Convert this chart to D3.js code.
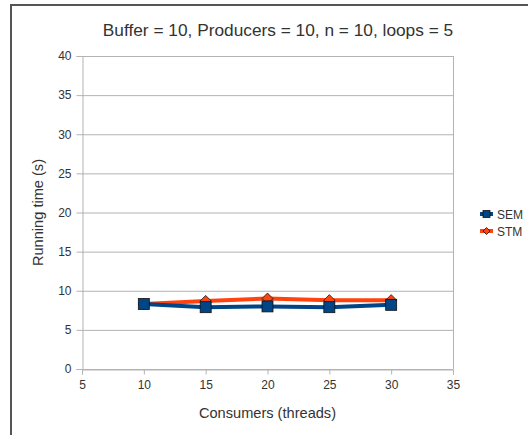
<!DOCTYPE html>
<html>
<head>
<meta charset="utf-8">
<script src="https://cdn.jsdelivr.net/npm/d3@7"></script>
<style>
  html, body { margin: 0; padding: 0; background: #fff; }
  svg { display: block; font-family: "Liberation Sans", Arial, sans-serif; }
</style>
</head>
<body>
<svg id="chart" width="528" height="435"></svg>
<script>
// Measured running times per consumer count
const consumers = [10, 15, 20, 25, 30];
const semTimes = [8.3, 7.9, 8.0, 7.9, 8.2];
const stmTimes = [8.3, 8.7, 9.0, 8.8, 8.8];
const seriesNames = ["SEM", "STM"];
const xTicks = [5, 10, 15, 20, 25, 30, 35];
const yTicks = [0, 5, 10, 15, 20, 25, 30, 35, 40];
const titleText = "Buffer = 10, Producers = 10, n = 10, loops = 5";
const xTitle = "Consumers (threads)";
const yTitle = "Running time (s)";

const svg = d3.select("#chart");
const plot = { left: 82, right: 453, top: 56, bottom: 369 };

const x = d3.scaleLinear().domain([5, 35]).range([plot.left, plot.right]);
const y = d3.scaleLinear().domain([0, 40]).range([plot.bottom, plot.top]);

const gridColor = "#b3b3b3";
const textColor = "#333";

// outer frame (left and top edges)
svg.append("path")
  .attr("d", `M11,440 L11,5 L530,5`)
  .attr("fill", "none").attr("stroke", "#555").attr("stroke-width", 2);

// horizontal grid lines
svg.append("g").selectAll("line").data(yTicks).join("line")
  .attr("x1", plot.left).attr("x2", plot.right)
  .attr("y1", d => y(d) + 0.5).attr("y2", d => y(d) + 0.5)
  .attr("stroke", gridColor).attr("stroke-width", 1);

// plot border on the right
svg.append("line")
  .attr("x1", plot.right + 0.5).attr("x2", plot.right + 0.5)
  .attr("y1", plot.top).attr("y2", plot.bottom)
  .attr("stroke", gridColor);

// axes
const xAxis = d3.axisBottom(x).tickValues(xTicks).tickSize(5).tickPadding(6);
const yAxis = d3.axisLeft(y).tickValues(yTicks).tickSize(6).tickPadding(5);

const gx = svg.append("g").attr("transform", `translate(0,${plot.bottom + 0.5})`).call(xAxis);
const gy = svg.append("g").attr("transform", `translate(${plot.left + 0.5},0)`).call(yAxis);
[gx, gy].forEach(g => {
  g.select(".domain").attr("stroke", gridColor);
  g.selectAll(".tick line").attr("stroke", gridColor);
  g.selectAll(".tick text")
    .attr("fill", textColor)
    .style("font-size", "12px")
    .style("font-family", "'Liberation Sans', Arial, sans-serif");
});

// titles
svg.append("text")
  .attr("x", 278).attr("y", 36)
  .attr("text-anchor", "middle")
  .attr("fill", textColor)
  .style("font-size", "17.3px")
  .text(titleText);

svg.append("text")
  .attr("x", (plot.left + plot.right) / 2).attr("y", 418)
  .attr("text-anchor", "middle")
  .attr("fill", textColor)
  .style("font-size", "14.6px")
  .text(xTitle);

svg.append("text")
  .attr("transform", `translate(43,${(plot.top + plot.bottom) / 2}) rotate(-90)`)
  .attr("text-anchor", "middle")
  .attr("fill", textColor)
  .style("font-size", "14.6px")
  .text(yTitle);

// series
const colors = { SEM: "#004586", STM: "#ff420e" };
const seriesData = {
  SEM: consumers.map((c, i) => ({ x: c, y: semTimes[i] })),
  STM: consumers.map((c, i) => ({ x: c, y: stmTimes[i] }))
};
const line = d3.line().x(d => x(d.x)).y(d => y(d.y));

function drawMarker(sel, name, size) {
  if (name === "SEM") {
    sel.append("rect")
      .attr("x", -size / 2).attr("y", -size / 2)
      .attr("width", size).attr("height", size)
      .attr("fill", colors.SEM).attr("stroke", "#111").attr("stroke-width", 0.8);
  } else {
    const h = size / 2;
    sel.append("path")
      .attr("d", `M0,${-h} L${h},0 L0,${h} L${-h},0 Z`)
      .attr("fill", colors.STM).attr("stroke", "#111").attr("stroke-width", 0.8);
  }
}

// draw STM first so SEM sits on top
["STM", "SEM"].forEach(name => {
  svg.append("path")
    .datum(seriesData[name])
    .attr("d", line)
    .attr("fill", "none")
    .attr("stroke", colors[name])
    .attr("stroke-width", 4)
    .attr("stroke-linejoin", "round");
});
["STM", "SEM"].forEach(name => {
  svg.append("g").selectAll("g").data(seriesData[name]).join("g")
    .attr("transform", d => `translate(${x(d.x)},${y(d.y)})`)
    .each(function () { drawMarker(d3.select(this), name, name === "SEM" ? 11 : 11); });
});

// legend
const legend = svg.append("g").attr("transform", "translate(480,214)");
seriesNames.forEach((name, i) => {
  const g = legend.append("g").attr("transform", `translate(0,${i * 17})`);
  g.append("line")
    .attr("x1", 0).attr("x2", 13).attr("y1", 0).attr("y2", 0)
    .attr("stroke", colors[name]).attr("stroke-width", 4);
  const m = g.append("g").attr("transform", "translate(6.5,0)");
  drawMarker(m, name, 7);
  g.append("text")
    .attr("x", 17).attr("y", 4.5)
    .attr("fill", textColor)
    .style("font-size", "12px")
    .text(name);
});
</script>
</body>
</html>
